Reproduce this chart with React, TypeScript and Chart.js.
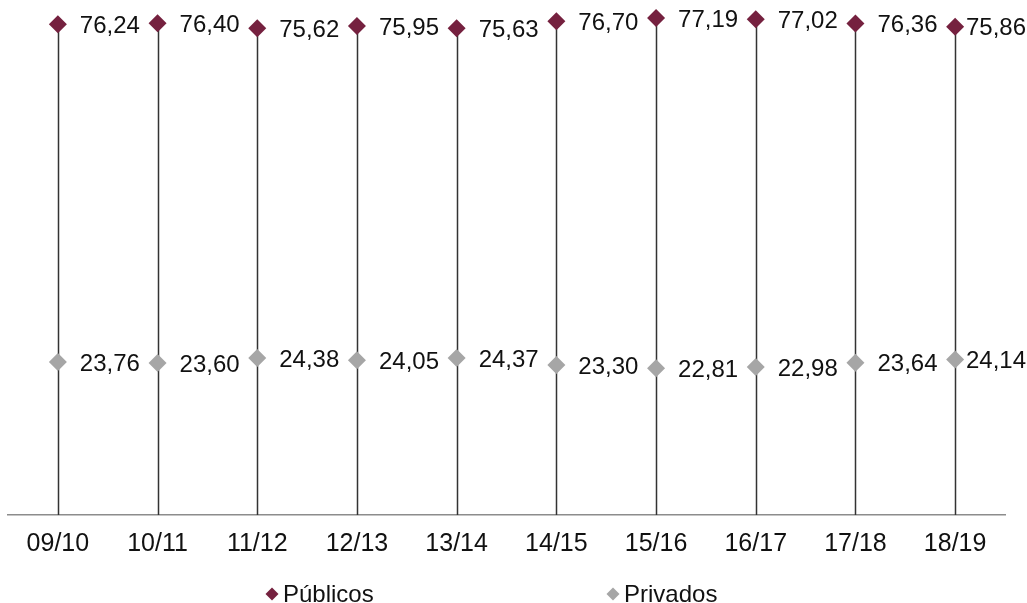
import React, { useEffect, useRef } from "react";
import { Chart, registerables } from "chart.js";

Chart.register(...registerables);

const categories = ["09/10", "10/11", "11/12", "12/13", "13/14", "14/15", "15/16", "16/17", "17/18", "18/19"];
const publicos = [76.24, 76.4, 75.62, 75.95, 75.63, 76.7, 77.19, 77.02, 76.36, 75.86];
const privados = [23.76, 23.6, 24.38, 24.05, 24.37, 23.3, 22.81, 22.98, 23.64, 24.14];
const seriesNames = ["Públicos", "Privados"];
const seriesColors = ["#75213F", "#A6A6A6"];

const FONT = "'Liberation Sans', Arial, sans-serif";

const fmt = (v: number) => v.toFixed(2).replace(".", ",");

const dropLines = {
  id: "dropLines",
  beforeDatasetsDraw(chart: any) {
    const ctx = chart.ctx;
    const meta = chart.getDatasetMeta(0);
    const bottom = chart.chartArea.bottom;
    ctx.save();
    ctx.strokeStyle = "#333333";
    ctx.lineWidth = 1.5;
    meta.data.forEach((pt: any) => {
      ctx.beginPath();
      ctx.moveTo(Math.round(pt.x) + 0.5, pt.y);
      ctx.lineTo(Math.round(pt.x) + 0.5, bottom);
      ctx.stroke();
    });
    ctx.restore();
  },
};

const valueLabels = {
  id: "valueLabels",
  afterDatasetsDraw(chart: any) {
    const ctx = chart.ctx;
    ctx.save();
    ctx.font = `24px ${FONT}`;
    ctx.fillStyle = "#111111";
    ctx.textBaseline = "middle";
    ctx.textAlign = "left";
    chart.data.datasets.forEach((ds: any, di: number) => {
      const meta = chart.getDatasetMeta(di);
      meta.data.forEach((pt: any, i: number) => {
        const txt = fmt(ds.data[i]);
        const w = ctx.measureText(txt).width;
        let x = pt.x + 22;
        if (x + w > chart.width - 1) x = chart.width - 1 - w;
        ctx.fillText(txt, x, pt.y + 2);
      });
    });
    ctx.restore();
  },
};

const customLegend = {
  id: "customLegend",
  afterDraw(chart: any) {
    const ctx = chart.ctx;
    const positions = [272, 613];
    const y = 594;
    ctx.save();
    ctx.font = `24px ${FONT}`;
    ctx.textBaseline = "middle";
    ctx.textAlign = "left";
    chart.data.datasets.forEach((ds: any, di: number) => {
      const cx = positions[di];
      const r = 6.5;
      ctx.fillStyle = ds.pointBackgroundColor;
      ctx.beginPath();
      ctx.moveTo(cx, y - r);
      ctx.lineTo(cx + r, y);
      ctx.lineTo(cx, y + r);
      ctx.lineTo(cx - r, y);
      ctx.closePath();
      ctx.fill();
      ctx.fillStyle = "#111111";
      ctx.fillText(ds.label, cx + 11, y + 1);
    });
    ctx.restore();
  },
};

export default function App() {
  const ref = useRef<HTMLCanvasElement | null>(null);
  useEffect(() => {
    document.body.style.margin = "0";
    const canvas = ref.current;
    if (!canvas) return;
    const chart = new Chart(canvas, {
      type: "line",
      data: {
        labels: categories,
        datasets: [
          {
            label: seriesNames[0],
            data: publicos,
            showLine: false,
            pointStyle: "rectRot",
            pointRadius: 9,
            pointHoverRadius: 9,
            pointBackgroundColor: seriesColors[0],
            pointBorderColor: seriesColors[0],
            pointBorderWidth: 0,
            borderColor: seriesColors[0],
            backgroundColor: seriesColors[0],
          },
          {
            label: seriesNames[1],
            data: privados,
            showLine: false,
            pointStyle: "rectRot",
            pointRadius: 9,
            pointHoverRadius: 9,
            pointBackgroundColor: seriesColors[1],
            pointBorderColor: seriesColors[1],
            pointBorderWidth: 0,
            borderColor: seriesColors[1],
            backgroundColor: seriesColors[1],
          },
        ],
      },
      options: {
        responsive: false,
        animation: false,
        layout: { autoPadding: false, padding: { left: 8, right: 22, top: 0, bottom: 30 } },
        plugins: {
          legend: { display: false },
          tooltip: { enabled: false },
        },
        scales: {
          x: {
            type: "category",
            offset: true,
            grid: { display: false, drawTicks: false },
            border: { display: true, color: "#8c8c8c", width: 1.5 },
            ticks: {
              padding: 14,
              color: "#111111",
              font: { family: FONT, size: 25 },
              maxRotation: 0,
              autoSkip: false,
            },
          },
          y: {
            display: false,
            min: 0,
            max: 80,
          },
        },
      },
      plugins: [dropLines, valueLabels, customLegend],
    });
    return () => chart.destroy();
  }, []);
  return <canvas ref={ref} width={1027} height={603} style={{ display: "block" }} />;
}
